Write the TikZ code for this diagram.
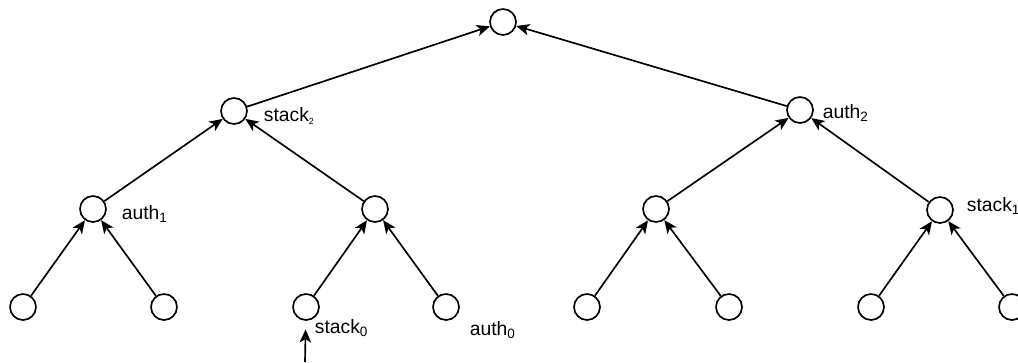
\documentclass[tikz,border=0pt]{standalone}
\usepackage{fontspec}
\setmainfont{Liberation Sans}
\usetikzlibrary{arrows.meta}

\tikzset{every picture/.style={line width=0.95pt}}
\tikzset{
	vertex/.style={circle,draw,inner sep=0pt,minimum size=0.52cm},
	edge/.style={-{Stealth[length=7.5pt,width=6.5pt,inset=2pt]}},
	tag/.style={anchor=west,inner sep=0pt,font=\fontsize{11}{13}\selectfont}
}

\begin{document}
\begin{tikzpicture}[x=0.02cm,y=-0.02cm]
		\useasboundingbox (0,0) rectangle (1018,362);
		\node[vertex] (root) at (503,22) {};
		\node[vertex] (l) at (234,111) {};
		\node[vertex] (r) at (800,110) {};
		\node[vertex] (ll) at (93,209) {};
		\node[vertex] (lr) at (375,209) {};
		\node[vertex] (rl) at (656,209) {};
		\node[vertex] (rr) at (940,210) {};
		\node[vertex] (lll) at (23,307) {};
		\node[vertex] (llr) at (164,307) {};
		\node[vertex] (lrl) at (306,307) {};
		\node[vertex] (lrr) at (446,307) {};
		\node[vertex] (rll) at (587,307) {};
		\node[vertex] (rlr) at (729,307) {};
		\node[vertex] (rrl) at (871,307) {};
		\node[vertex] (rrr) at (1012,307) {};
		\node[tag] at (263,116) {stack{\tiny\textsubscript{2}}};
		\node[tag] at (822,113) {auth\textsubscript{2}};
		\node[tag] at (121,214) {auth\textsubscript{1}};
		\node[tag] at (966,206) {stack\textsubscript{1}};
		\node[tag] at (314,328) {stack\textsubscript{0}};
		\node[tag] at (469,330) {auth\textsubscript{0}};
		\draw[edge] (l) -- (root);
		\draw[edge] (r) -- (root);
		\draw[edge] (ll) -- (l);
		\draw[edge] (lr) -- (l);
		\draw[edge] (rl) -- (r);
		\draw[edge] (rr) -- (r);
		\draw[edge] (lll) -- (ll);
		\draw[edge] (llr) -- (ll);
		\draw[edge] (lrl) -- (lr);
		\draw[edge] (lrr) -- (lr);
		\draw[edge] (rll) -- (rl);
		\draw[edge] (rlr) -- (rl);
		\draw[edge] (rrl) -- (rr);
		\draw[edge] (rrr) -- (rr);
		\coordinate (in) at (305,362);
		\draw[edge,shorten >=0.17cm] (in) -- (lrl);
	\end{tikzpicture}
\end{document}
